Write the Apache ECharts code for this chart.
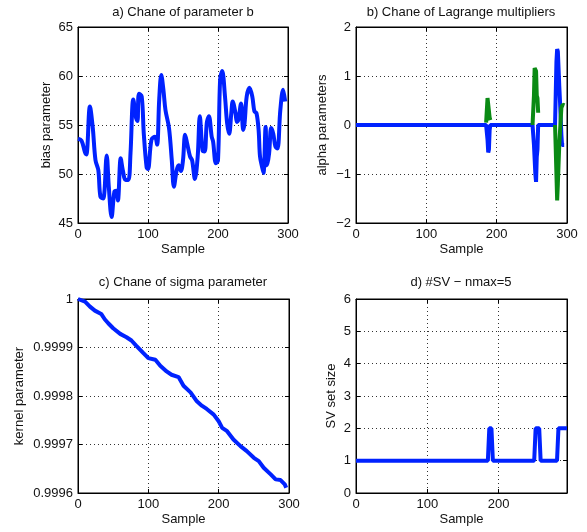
<!DOCTYPE html>
<html><head><meta charset="utf-8">
<script src="https://cdn.jsdelivr.net/npm/echarts@6/dist/echarts.min.js"></script>
<style>html,body{margin:0;padding:0;background:#fff}#c{width:587px;height:532px}</style>
</head><body><div id="c"></div>
<script>
// ---- data ----
const titles = ['a) Chane of parameter b', 'b) Chane of Lagrange multipliers', 'c) Chane of sigma parameter', 'd) #SV \u2212 nmax=5'];
const yNames = ['bias parameter', 'alpha parameters', 'kernel parameter', 'SV set size'];
const xName = 'Sample';

const sampleA = [0,5,10,12,17,21,25,29,32,36,41,44,48,52,55,57,61,64,68,72,75,79,83,85,87,91,94,98,100,105,110,113,116,119,122,125,130,134,137,141,144,147,150,153,156,160,163,167,171,174,178,181,184,187,191,193,197,200,203,206,210,213,216,219,221,225,227,229,233,236,238,241,245,249,252,255,258,260,263,265,268,270,273,276,279,282,285,289,293,296];
const biasA = [53.6,53.4,52.2,52.0,56.9,54.8,51.4,50.4,47.7,47.5,51.9,48.7,45.6,48.2,48.3,47.3,51.6,50.4,49.4,49.4,52.1,57.6,55.7,55.4,58.2,57.9,54.1,50.7,50.5,53.5,53.8,53.0,57.6,60.1,58.6,56.5,54.7,51.4,48.7,50.4,50.9,50.3,51.4,54.0,53.1,51.8,51.4,49.5,51.8,55.9,52.4,52.3,55.2,55.9,53.8,53.3,51.1,51.4,59.6,60.5,57.9,55.2,54.1,56.2,57.4,56.2,55.3,55.5,57.2,54.5,55.2,57.9,58.8,57.9,56.4,56.2,54.5,51.8,50.7,50.1,54.8,50.9,52.1,54.7,54.1,52.8,52.6,56.5,58.6,57.4];

const sampleB1 = [0,185,187,188,189,190,191,251,253,255,256,257,258,259,283,285,286,287,289,290,292,293,296];
const alpha1 = [0,0,-0.3,-0.56,-0.5,-0.1,0,0,-0.4,-1.0,-1.16,-0.65,-0.5,0,0,1.3,1.55,1.5,0.8,0.5,-0.2,-0.41,-0.41];
const sampleB2 = [185,187,189,190,191,220,251,253,254,256,257,258,259,270,283,284,286,287,289,291,292,294,296];
const alpha2 = [0.05,0.55,0.57,0.15,0.1,null,0,0.6,1.16,1.1,0.6,0.55,0.25,null,0,-0.5,-1.54,-1.2,-0.4,0.1,0.35,0.42,0.4];

const sampleC = [0,2,10,17,24,33,38,43,50,60,69,76,83,93,100,110,117,126,133,143,150,160,169,176,183,193,200,205,212,221,231,240,250,257,264,274,281,288,294,296];
const sigmaC = [1.0,1.0,0.9999945,0.9999842,0.999976,0.9999692,0.9999582,0.99995,0.9999397,0.9999281,0.9999212,0.9999144,0.9999034,0.9998884,0.9998781,0.9998747,0.9998623,0.9998507,0.9998438,0.999839,0.9998212,0.9998075,0.999789,0.9997801,0.9997733,0.9997616,0.9997479,0.9997342,0.9997274,0.9997103,0.9996966,0.9996863,0.9996726,0.9996658,0.9996521,0.9996384,0.9996281,0.9996267,0.9996178,0.999611];

const sampleD = [0,185,187,190,192,250,252,257,259,282,284,296];
const svSize = [1,1,2,2,1,1,2,2,1,1,2,2];

// ---- chart ----
const FONT = 'Liberation Sans, Arial, Helvetica, sans-serif';
const BLUE = '#0022ff', GREEN = '#0a8a14';
const grids = [
  {left:78, top:27, width:210, height:196},
  {left:356, top:27, width:211, height:196},
  {left:78, top:299, width:211, height:194},
  {left:356, top:299, width:211, height:194}
];
const xr = [[0,300,100],[0,300,100],[0,300,100],[0,296,100]];
const yr = [[45,65,5],[-2,2,1],[0.9996,1,0.0001],[0,6,1]];
const yGaps = [25,27,52,18];
const minus = v => (v < 0 ? '\u2212' + Math.abs(v) : String(v));
const yFmt = [
  v => String(v),
  v => minus(v),
  v => (Math.abs(v - 1) < 1e-9 ? '1' : v.toFixed(4)),
  v => String(v)
];
const splitLine = {show:true, lineStyle:{color:'#333', width:1, type:[1,3]}};
const axisLine = {show:true, onZero:false, lineStyle:{color:'#000', width:1}};
const axisTick = {show:true, inside:true, length:4, lineStyle:{color:'#000'}};
const lbl = {fontFamily:FONT, fontSize:13, color:'#111'};

const xAxis = [], yAxis = [];
for (let i = 0; i < 4; i++) {
  xAxis.push({type:'value', gridIndex:i, min:xr[i][0], max:xr[i][1], interval:xr[i][2],
    name:xName, nameLocation:'middle', nameGap:20, nameTextStyle:{fontFamily:FONT, fontSize:13, color:'#111'},
    axisLine, axisTick, splitLine, axisLabel:Object.assign({margin:5, showMaxLabel: i !== 3}, lbl)});
  yAxis.push({type:'value', gridIndex:i, min:yr[i][0], max:yr[i][1], interval:yr[i][2],
    name:yNames[i], nameLocation:'middle', nameGap:yGaps[i], nameRotate:90,
    nameTextStyle:{fontFamily:FONT, fontSize:13, color:'#111'},
    axisLine, axisTick, splitLine, axisLabel:Object.assign({margin:5, formatter:yFmt[i]}, lbl)});
}
for (let i = 0; i < 4; i++) {
  xAxis.push({type:'value', gridIndex:i, position:'top', min:xr[i][0], max:xr[i][1], interval:xr[i][2],
    axisLine, axisTick, splitLine:{show:false}, axisLabel:{show:false}});
  yAxis.push({type:'value', gridIndex:i, position:'right', min:yr[i][0], max:yr[i][1], interval:yr[i][2],
    axisLine, axisTick, splitLine:{show:false}, axisLabel:{show:false}});
}
const pairs = (xs, ys) => xs.map((x, k) => [x, ys[k] === null ? '-' : ys[k]]);
const line = (i, data, color, smooth) => ({type:'line', xAxisIndex:i, yAxisIndex:i, data, showSymbol:false,
  smooth: smooth || false, connectNulls:false, lineStyle:{color, width:4}, itemStyle:{color}, animation:false});

const titleCenters = [[183,12],[461,12],[183,282],[461,282]];
const graphic = titles.map((t, i) => ({type:'text', x:titleCenters[i][0], y:titleCenters[i][1],
  style:{text:t, fontFamily:FONT, fontSize:13, fill:'#111', textAlign:'center', textVerticalAlign:'middle'}}));

const chart = echarts.init(document.getElementById('c'), null, {renderer:'canvas'});
chart.setOption({
  animation:false,
  backgroundColor:'#fff',
  grid: grids.map(g => Object.assign({show:true, borderColor:'#000', borderWidth:1, backgroundColor:'#fff'}, g)),
  xAxis, yAxis, graphic,
  series: [
    line(0, pairs(sampleA, biasA), BLUE, 0.35),
    line(1, pairs(sampleB1, alpha1), BLUE),
    line(1, pairs(sampleB2, alpha2), GREEN),
    line(2, pairs(sampleC, sigmaC), BLUE),
    line(3, pairs(sampleD, svSize), BLUE)
  ]
});
</script></body></html>
